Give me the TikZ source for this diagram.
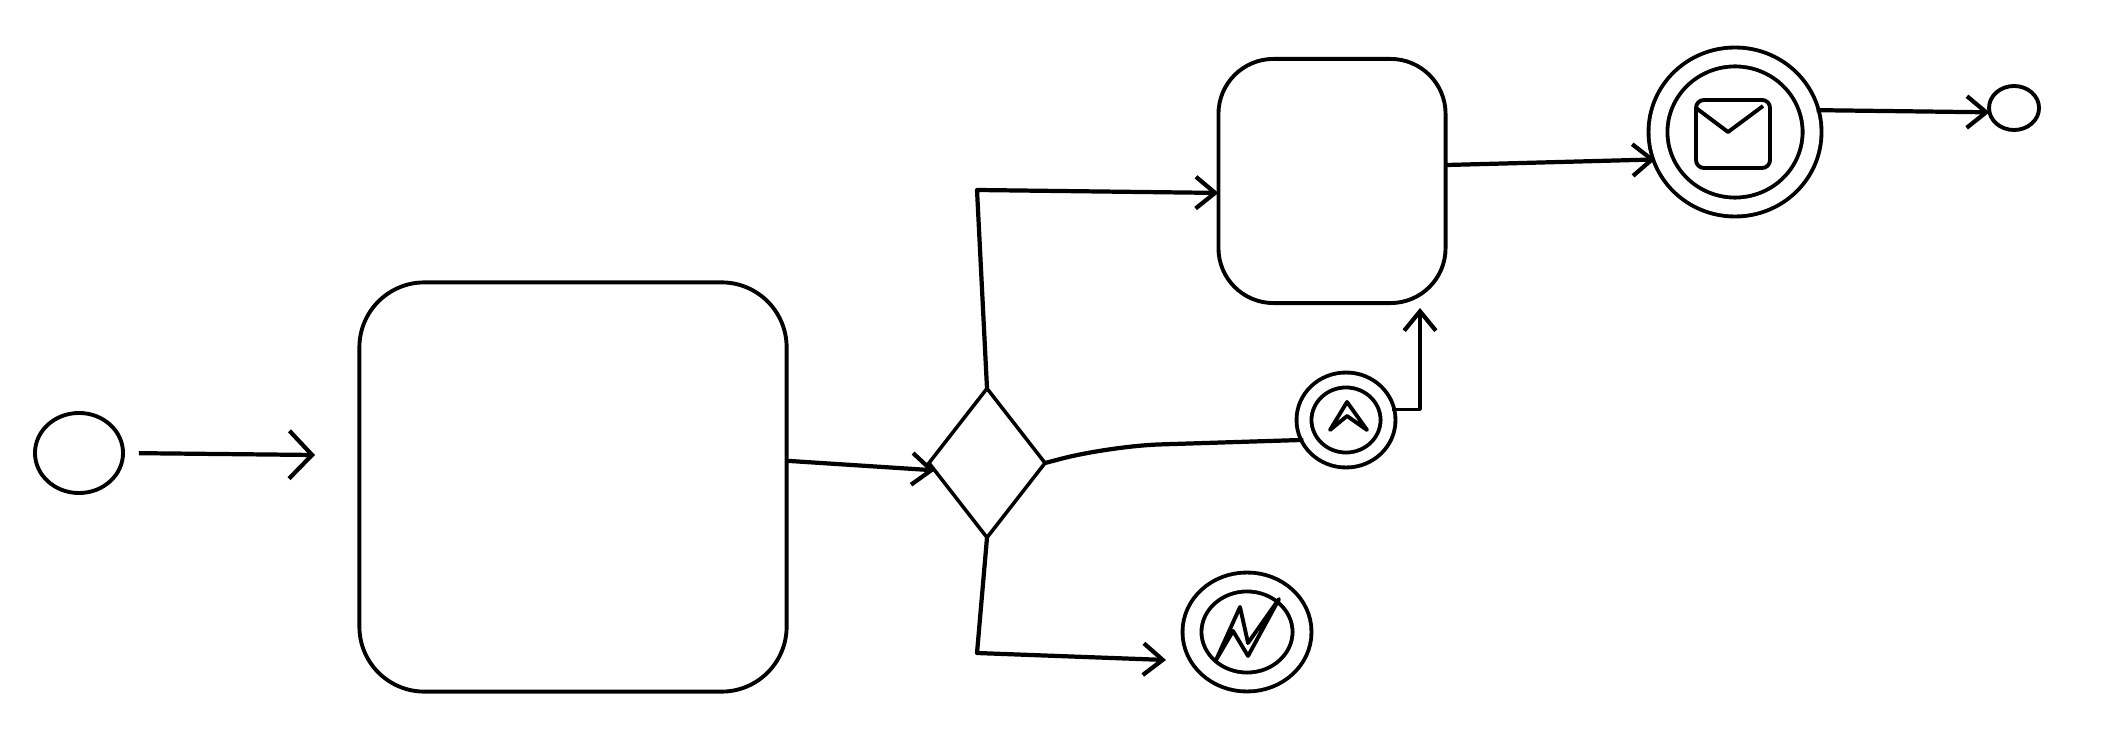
\documentclass[tikz,border=0pt]{standalone}
\usepackage{tikz}
\usetikzlibrary{arrows.meta, shapes.geometric}
\tikzset{
    flow/.style={plainflow, -{Straight Barb[length=5.5pt, width=9pt, line width=1.2pt]}},
    plainflow/.style={line width=1.2pt, line join=round},
    task/.style={rectangle, draw, line width=1.1pt, inner sep=0pt, outer sep=0pt},
    event/.style={ellipse, draw, line width=1.1pt, inner sep=0pt, outer sep=0pt},
    ringevent/.style={event, double, double distance=#1, outer sep=#1/2},
    glyph/.style={line width=1.1pt, line join=round}
}
\begin{document}
\begin{tikzpicture}[x=0.01cm, y=-0.01cm]
        \useasboundingbox (0, 0) rectangle (2104, 755);

        \node[event, minimum width=0.88cm, minimum height=0.8cm] (start) at (79, 453) {};
        \node[task, rounded corners=0.65cm, minimum width=4.27cm, minimum height=4.09cm] (review) at (573, 487) {};
        \node[diamond, draw, line width=1pt, inner sep=0pt, outer sep=0pt, minimum width=1.16cm, minimum height=1.49cm] (gate) at (987, 463) {};
        \node[task, rounded corners=0.55cm, minimum width=2.27cm, minimum height=2.44cm] (approve) at (1332, 181) {};
        \node[ringevent=0.15cm, minimum width=1.54cm, minimum height=1.5cm] (mail) at (1735, 132) {};
        \node[event, minimum width=0.5cm, minimum height=0.44cm] (end) at (2014, 108) {};
        \node[ringevent=0.11cm, minimum width=0.84cm, minimum height=0.8cm] (esc) at (1346, 420) {};
        \node[ringevent=0.15cm, minimum width=1.1cm, minimum height=1cm] (err) at (1247, 632) {};
        \node[rectangle, draw, glyph, rounded corners=0.08cm, inner sep=0pt, minimum width=0.74cm, minimum height=0.68cm] (envelope) at (1733, 134) {};

        \coordinate (starttip) at (315, 455);
        \coordinate (upcorner) at (977, 190);
        \coordinate (downcorner) at (977, 653);
        \coordinate (errtip) at (1166, 660);
        \coordinate (esctip) at (1420, 308);
        \coordinate (escbend) at (1110, 446);

        \draw[plainflow, shorten <=4.5pt, -{Straight Barb[length=6.5pt, width=13.6pt, line width=1.2pt]}] (start.east) -- (starttip);
        \draw[flow] (review.7) -- (gate.188);
        \draw[flow] (gate.north) -- (upcorner) -- (approve.186);
        \draw[plainflow, rounded corners=0.5cm] (gate.east) -- (escbend) -- (esc.205);
        \draw[flow, line width=0.9pt] (esc.13) -| (esctip);
        \draw[flow] (gate.south) -- (downcorner) -- (errtip);
        \draw[flow] (approve.8) -- (mail.199);
        \draw[flow] (mail.15) -- (end.190);

        \draw[glyph] (1696, 108) -- (1728, 132) -- (1763, 106);
        \draw[glyph] (1330, 430) -- (1347, 402) -- (1367, 430) -- (1347, 416) -- cycle;
        \draw[glyph] (1216, 660) -- (1240, 607) -- (1248, 643) -- (1279, 599) -- (1248, 656) -- (1233, 631) -- cycle;
    \end{tikzpicture}
\end{document}
